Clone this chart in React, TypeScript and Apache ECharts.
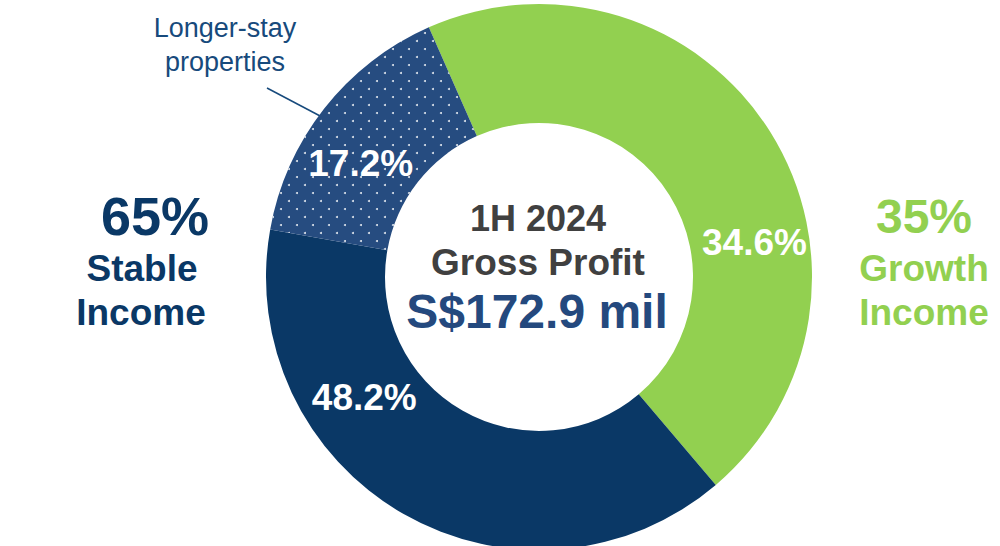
import React, { useEffect, useRef } from "react";
import * as echarts from "echarts";

// Segment names (clockwise from the top-left boundary)
const categories = ["Growth Income", "Stable Income", "Longer-stay properties"];
// Share of the ring each slice occupies as drawn in the picture (%)
const arcShares = [45.4, 39.0, 15.6];
// Percentages printed on the slices
const labelValues = [34.6, 48.2, 17.2];

const sideTotals = ["65%", "35%"];
const centerTitle = ["1H 2024", "Gross Profit"];
const centerValue = "S$172.9 mil";

const COLORS = ["#92d050", "#0a3866", "#264c80"];
const LABEL_OFFSETS: [number, number][] = [
  [32, 80],
  [-67, -67],
  [-8, 20],
];
const FONT = "'Liberation Sans', Arial, sans-serif";

export default function App() {
  const ref = useRef<HTMLDivElement>(null);
  useEffect(() => {
    if (!ref.current) return;
    const chart = echarts.init(ref.current, null, { renderer: "svg" });
    const cx = 539;
    const cy = 277;
    const data = categories.map((name, i) => ({
      name,
      value: arcShares[i],
      itemStyle:
        i === 2
          ? {
              color: COLORS[i],
              decal: {
                symbol: "circle",
                symbolSize: 1,
                color: "rgba(255,255,255,0.85)",
                dashArrayX: [
                  [2, 14],
                  [0, 8, 2, 6],
                ],
                dashArrayY: [2, 6],
              },
            }
          : { color: COLORS[i] },
    }));
    const txt = (
      text: string,
      x: number,
      y: number,
      size: number,
      color: string,
      weight: string = "bold"
    ) => ({
      type: "text",
      x,
      y,
      silent: true,
      style: {
        text,
        fill: color,
        font: `${weight} ${size}px ${FONT}`,
        textAlign: "center",
        textVerticalAlign: "middle",
      },
    });
    chart.setOption({
      animation: false,
      series: [
        {
          type: "pie",
          center: [cx, cy],
          radius: [154, 273],
          startAngle: 113.8,
          clockwise: true,
          silent: true,
          emphasis: { disabled: true },
          data,
          labelLine: { show: false },
          label: {
            show: true,
            position: "inside",
            formatter: (p: any) => labelValues[p.dataIndex].toFixed(1) + "%",
            color: "#ffffff",
            fontFamily: FONT,
            fontWeight: "bold",
            fontSize: 37,
          },
          labelLayout: (p: any) => {
            const o = LABEL_OFFSETS[p.dataIndex];
            return { dx: o[0], dy: o[1] };
          },
        },
      ],
      graphic: [
        txt("Longer-stay", 225, 28, 27, "#174a7c", "normal"),
        txt("properties", 225, 62, 27, "#174a7c", "normal"),
        {
          type: "line",
          silent: true,
          shape: { x1: 267, y1: 88, x2: 322, y2: 117 },
          style: { stroke: "#174a7c", lineWidth: 1.5 },
        },
        txt(sideTotals[0], 155, 216, 54, "#0a3866"),
        txt("Stable", 142, 268, 37, "#0a3866"),
        txt("Income", 141, 312, 37, "#0a3866"),
        txt(sideTotals[1], 924, 216, 48, "#92d050"),
        txt("Growth", 924, 268, 37, "#92d050"),
        txt("Income", 924, 312, 37, "#92d050"),
        txt(centerTitle[0], 538, 218, 36, "#404040"),
        txt(centerTitle[1], 538, 262, 37, "#404040"),
        txt(centerValue, 537, 311, 48, "#24497e"),
      ],
    });
    return () => chart.dispose();
  }, []);
  return (
    <div
      ref={ref}
      style={{ position: "fixed", left: 0, top: 0, width: 1000, height: 546, background: "#ffffff" }}
    />
  );
}
